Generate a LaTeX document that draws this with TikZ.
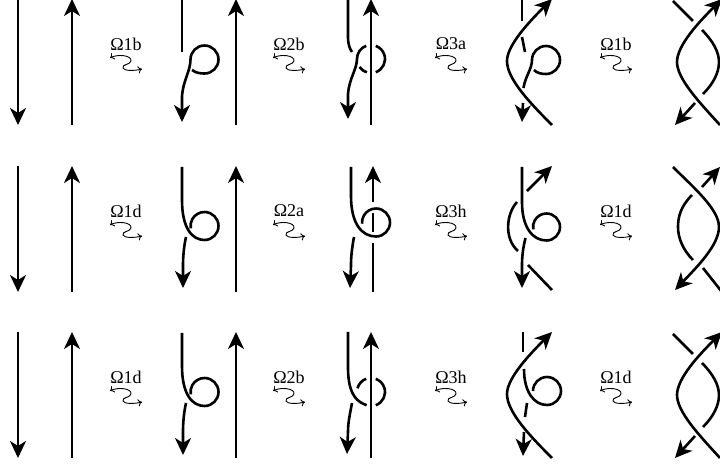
\documentclass[tikz,border=0pt]{standalone}
\usepackage{fontspec}
\setmainfont{Liberation Serif}
\usetikzlibrary{arrows.meta}

\tikzset{
  strand/.style={line width=1.3pt},
  tip/.style={strand,-{Stealth[length=8.5pt,width=8pt,inset=2.5pt]}},
  movelabel/.style={font=\fontsize{9}{11}\selectfont,inner sep=0pt},
  squigline/.style={line width=0.45pt,{To[length=2pt,width=3.6pt]}-{To[length=2pt,width=3.6pt]}},
  squig/.pic={\draw[squigline] (-16,-5) .. controls (-9,-9) and (6,-8) .. (5,-2) .. controls (4,2) and (-4,1) .. (-3,5) .. controls (-2,8) and (8,8) .. (16,6);}
}

\begin{document}
\begin{tikzpicture}[x=0.5pt,y=-0.5pt]
  \clip (0,0) rectangle (720,466);
  \foreach \yy/\row/\la/\lb/\lc/\ld in {-1/1/1b/2b/3a/1b,166/2/1d/2a/3h/1d,332/3/1d/2b/3h/1d} {
    \draw[tip] (18,\yy) -- (18,\yy+126);
    \draw[tip] (72,\yy+126) -- (72,\yy);
    \draw[tip] (236,\yy+126) -- (236,\yy);
    \foreach \x/\l [count=\c] in {126/\la,289/\lb,451/\lc,616/\ld} {
      \node[movelabel] (mv\row\c) at (\x,\yy+45) {Ω\l};
      \pic at (\x,\yy+64) {squig};
    }
  }

  \begin{scope}[shift={(0,-1)}]
    \draw[strand] (182,0) -- (182,53);
    \draw[tip] (192,71) .. controls (196,74) and (200,74.5) .. (204.5,74.5) arc[start angle=90,end angle=-180,radius=14]
      .. controls (190.5,72) and (183,82) .. (182,97) -- (182,123);
    \draw[strand] (348,0) -- (348,38) .. controls (348,46) and (350,50) .. (352,53);
    \draw[strand] (359.5,68) arc[start angle=145,end angle=107,radius=14];
    \draw[strand] (375.8,73.2) arc[start angle=70,end angle=-70,radius=14];
    \draw[tip] (366.2,46.8) arc[start angle=-110,end angle=-180,radius=14]
      .. controls (357,70) and (349,80) .. (348,95) -- (348,120);
    \draw[tip] (371,126) -- (371,0);
    \draw[tip] (552,126) .. controls (530,104) and (507,80) .. (507,62) .. controls (507,46) and (530,22) .. (552,0);
    \draw[strand] (522,0) -- (522,22);
    \draw[strand] (522,38) -- (525,53);
    \draw[strand] (534,71) .. controls (537,74) and (541,75) .. (546,75) arc[start angle=90,end angle=-180,radius=14]
      .. controls (532,70) and (525,78) .. (523.5,89);
    \draw[tip] (523,104) -- (522,123);
    \draw[tip] (720,126) .. controls (700,104) and (677,80) .. (677,63) .. controls (677,46) and (700,22) .. (722,0);
    \draw[strand] (673,2) -- (693,22);
    \draw[strand] (702,31) .. controls (713,42) and (719,53) .. (719,63) .. controls (719,74) and (713,85) .. (703,95);
    \draw[tip] (695,104) -- (675,126);
  \end{scope}

  \begin{scope}[shift={(0,166)}]
    \draw[strand] (182,1) -- (182,34) .. controls (182,62) and (192,74) .. (204.5,74) arc[start angle=90,end angle=-190,radius=14];
    \draw[tip] (186,71) .. controls (184,80) and (183,90) .. (183,100) -- (183,122);
    \draw[strand] (351,1) -- (351,30) .. controls (351,58) and (362,70.5) .. (376,70.5) arc[start angle=90,end angle=-185,radius=14];
    \draw[tip] (354,71) .. controls (352,82) and (351,90) .. (351,100) -- (350,122);
    \draw[strand] (373,126) -- (373,77);
    \draw[strand] (373,66) -- (373,47);
    \draw[tip] (373,36) -- (373,0);
    \draw[strand] (522,1) -- (522,36) .. controls (522,62) and (533,74.5) .. (546.5,74.5) arc[start angle=90,end angle=-190,radius=13.5];
    \draw[tip] (525.5,72) .. controls (523,82) and (522,90) .. (522,100) -- (522,122);
    \draw[tip] (527,25) -- (552,0);
    \draw[strand] (517,36) .. controls (506,48) and (504,73) .. (518,85);
    \draw[strand] (528,99) -- (552,124);
    \draw[tip] (673,1) .. controls (693,21) and (719,43) .. (719,61) .. controls (719,79) and (697,101) .. (675,124);
    \draw[tip] (702,21) -- (720,1);
    \draw[strand] (692,29) .. controls (680,41) and (678,52) .. (678,61) .. controls (678,72) and (683,84) .. (693,94);
    \draw[strand] (703,102) -- (722,126);
  \end{scope}

  \begin{scope}[shift={(0,332)}]
    \draw[strand] (182,1) -- (182,34) .. controls (182,62) and (192,74) .. (204.5,74) arc[start angle=90,end angle=-190,radius=14];
    \draw[tip] (186,71) .. controls (184,80) and (183,90) .. (183,100) -- (183,123);
    \draw[strand] (348,0) -- (348,35) .. controls (348,58) and (354,68) .. (364,72.1) arc[start angle=120,end angle=108,radius=14];
    \draw[strand] (375.8,73.2) arc[start angle=70,end angle=-70,radius=14];
    \draw[strand] (366.2,46.8) arc[start angle=-110,end angle=-165,radius=14];
    \draw[tip] (352,71) .. controls (350,82) and (348,90) .. (348,100) -- (347,122);
    \draw[tip] (371,126) -- (371,0);
    \draw[tip] (552,126) .. controls (530,104) and (507,80) .. (507,62) .. controls (507,46) and (530,22) .. (552,0);
    \draw[strand] (523,0) -- (523,20);
    \draw[strand] (524,37) .. controls (524,60) and (534,73) .. (547,73) arc[start angle=90,end angle=-180,radius=14];
    \draw[strand] (527,71) -- (525,85);
    \draw[tip] (524,100) -- (523,124);
    \draw[tip] (720,126) .. controls (700,104) and (677,80) .. (677,63) .. controls (677,46) and (700,22) .. (722,0);
    \draw[strand] (673,2) -- (693,22);
    \draw[strand] (702,31) .. controls (713,42) and (719,53) .. (719,63) .. controls (719,74) and (713,85) .. (703,95);
    \draw[tip] (695,104) -- (675,126);
  \end{scope}
\end{tikzpicture}
\end{document}
